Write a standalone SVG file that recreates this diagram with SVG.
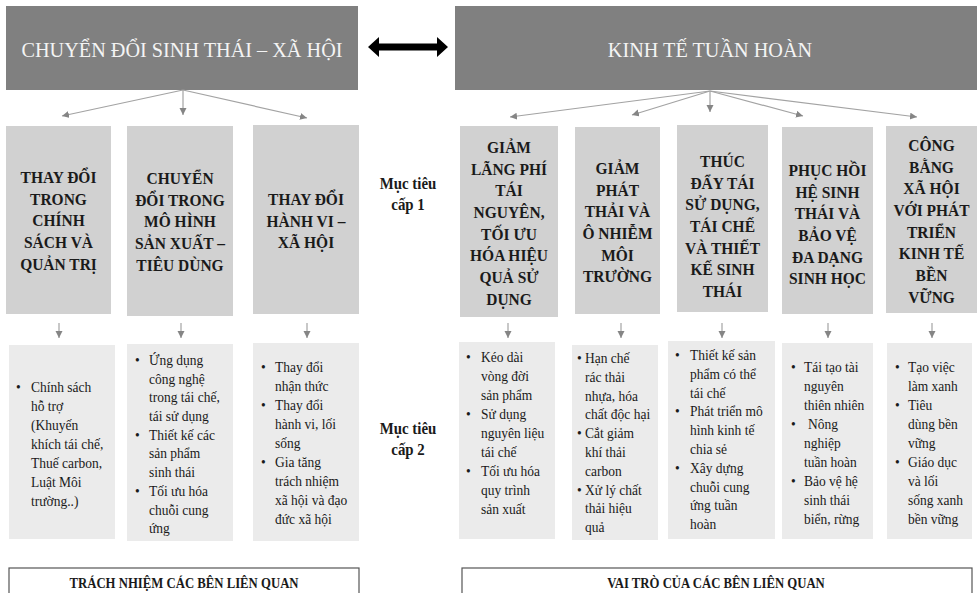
<svg xmlns="http://www.w3.org/2000/svg" width="977" height="593" viewBox="0 0 977 593">
<style>
.hdr{fill:#808080}
.hdrt{font-family:"Liberation Serif",serif;font-size:22px;fill:#f4f4f4;text-anchor:middle}
.l1{fill:#d1d1d1}
.l1t{font-family:"Liberation Serif",serif;font-size:17.5px;font-weight:bold;fill:#1a1a1a;text-anchor:middle}
.l2{fill:#ebebeb}
.l2t{font-family:"Liberation Serif",serif;font-size:15px;fill:#1a1a1a}
.lvl{font-family:"Liberation Serif",serif;font-size:16px;font-weight:bold;fill:#1a1a1a;text-anchor:middle}
.foot{fill:#ffffff;stroke:#555555;stroke-width:1.2}
.foott{font-family:"Liberation Serif",serif;font-size:14.5px;font-weight:bold;fill:#1a1a1a;text-anchor:middle}
.con{stroke:#a3a3a3;stroke-width:1.2;fill:none;marker-end:url(#ah)}
</style>
<defs>
<marker id="ah" markerUnits="userSpaceOnUse" markerWidth="8" markerHeight="8" refX="7" refY="3.5" orient="auto">
<path d="M0,0 L7,3.5 L0,7 z" fill="#858585"/>
</marker>
</defs>
<rect width="977" height="593" fill="#ffffff"/>

<g id="hdr-left">
<rect class="hdr" x="6" y="6" width="352" height="84"/>
<g transform="translate(182 0) scale(0.92 1)"><text class="hdrt" x="0" y="57">CHUYỂN ĐỔI SINH THÁI – XÃ HỘI</text></g>
</g>
<g id="hdr-right">
<rect class="hdr" x="455" y="6" width="522" height="84"/>
<g transform="translate(710 0) scale(0.92 1)"><text class="hdrt" x="0" y="57">KINH TẾ TUẦN HOÀN</text></g>
</g>

<g id="connectors">
<polygon points="368,47 379,37 379,43.5 437,43.5 437,37 448,47 437,57 437,50.5 379,50.5 379,57" fill="#000000"/>
<line class="con" x1="183" y1="90" x2="62" y2="116"/>
<line class="con" x1="183" y1="90" x2="183" y2="115"/>
<line class="con" x1="183" y1="90" x2="307" y2="118"/>
<line class="con" x1="710" y1="91" x2="510" y2="117"/>
<line class="con" x1="710" y1="91" x2="632" y2="115"/>
<line class="con" x1="710" y1="91" x2="710" y2="112"/>
<line class="con" x1="710" y1="91" x2="803" y2="116"/>
<line class="con" x1="710" y1="91" x2="917" y2="117"/>
<line class="con" x1="59" y1="323" x2="59" y2="338"/>
<line class="con" x1="181" y1="323" x2="181" y2="338"/>
<line class="con" x1="307" y1="323" x2="307" y2="338"/>
<line class="con" x1="508" y1="323" x2="508" y2="338"/>
<line class="con" x1="621" y1="323" x2="621" y2="338"/>
<line class="con" x1="722" y1="323" x2="722" y2="338"/>
<line class="con" x1="828" y1="323" x2="828" y2="338"/>
<line class="con" x1="932" y1="323" x2="932" y2="338"/>
</g>

<g id="l1-a">
<rect class="l1" x="6" y="126" width="105" height="188"/>
<g transform="translate(58.5 0) scale(0.886 1)"><text class="l1t"><tspan x="0" y="183">THAY ĐỔI</tspan><tspan x="0" dy="21.7">TRONG</tspan><tspan x="0" dy="21.7">CHÍNH</tspan><tspan x="0" dy="21.7">SÁCH VÀ</tspan><tspan x="0" dy="21.7">QUẢN TRỊ</tspan></text></g>
</g>
<g id="l1-b">
<rect class="l1" x="127" y="126" width="106" height="190"/>
<g transform="translate(180 0) scale(0.886 1)"><text class="l1t"><tspan x="0" y="184">CHUYỂN</tspan><tspan x="0" dy="21.7">ĐỔI TRONG</tspan><tspan x="0" dy="21.7">MÔ HÌNH</tspan><tspan x="0" dy="21.7">SẢN XUẤT –</tspan><tspan x="0" dy="21.7">TIÊU DÙNG</tspan></text></g>
</g>
<g id="l1-c">
<rect class="l1" x="253" y="125" width="106" height="189"/>
<g transform="translate(306 0) scale(0.886 1)"><text class="l1t"><tspan x="0" y="205">THAY ĐỔI</tspan><tspan x="0" dy="21.7">HÀNH VI –</tspan><tspan x="0" dy="21.7">XÃ HỘI</tspan></text></g>
</g>
<g id="l1-d">
<rect class="l1" x="460" y="126" width="98" height="191"/>
<g transform="translate(509 0) scale(0.886 1)"><text class="l1t"><tspan x="0" y="153">GIẢM</tspan><tspan x="0" dy="21.7">LÃNG PHÍ</tspan><tspan x="0" dy="21.7">TÁI</tspan><tspan x="0" dy="21.7">NGUYÊN,</tspan><tspan x="0" dy="21.7">TỐI ƯU</tspan><tspan x="0" dy="21.7">HÓA HIỆU</tspan><tspan x="0" dy="21.7">QUẢ SỬ</tspan><tspan x="0" dy="21.7">DỤNG</tspan></text></g>
</g>
<g id="l1-e">
<rect class="l1" x="575" y="127" width="85" height="187"/>
<g transform="translate(617.5 0) scale(0.886 1)"><text class="l1t"><tspan x="0" y="174">GIẢM</tspan><tspan x="0" dy="21.7">PHÁT</tspan><tspan x="0" dy="21.7">THẢI VÀ</tspan><tspan x="0" dy="21.7">Ô NHIỄM</tspan><tspan x="0" dy="21.7">MÔI</tspan><tspan x="0" dy="21.7">TRƯỜNG</tspan></text></g>
</g>
<g id="l1-f">
<rect class="l1" x="677" y="125" width="91" height="187"/>
<g transform="translate(722.5 0) scale(0.886 1)"><text class="l1t"><tspan x="0" y="167">THÚC</tspan><tspan x="0" dy="21.7">ĐẨY TÁI</tspan><tspan x="0" dy="21.7">SỬ DỤNG,</tspan><tspan x="0" dy="21.7">TÁI CHẾ</tspan><tspan x="0" dy="21.7">VÀ THIẾT</tspan><tspan x="0" dy="21.7">KẾ SINH</tspan><tspan x="0" dy="21.7">THÁI</tspan></text></g>
</g>
<g id="l1-g">
<rect class="l1" x="782" y="127" width="91" height="187"/>
<g transform="translate(827.5 0) scale(0.886 1)"><text class="l1t"><tspan x="0" y="176">PHỤC HỒI</tspan><tspan x="0" dy="21.7">HỆ SINH</tspan><tspan x="0" dy="21.7">THÁI VÀ</tspan><tspan x="0" dy="21.7">BẢO VỆ</tspan><tspan x="0" dy="21.7">ĐA DẠNG</tspan><tspan x="0" dy="21.7">SINH HỌC</tspan></text></g>
</g>
<g id="l1-h">
<rect class="l1" x="886" y="126" width="91" height="187"/>
<g transform="translate(931.5 0) scale(0.886 1)"><text class="l1t"><tspan x="0" y="151">CÔNG</tspan><tspan x="0" dy="21.7">BẰNG</tspan><tspan x="0" dy="21.7">XÃ HỘI</tspan><tspan x="0" dy="21.7">VỚI PHÁT</tspan><tspan x="0" dy="21.7">TRIỂN</tspan><tspan x="0" dy="21.7">KINH TẾ</tspan><tspan x="0" dy="21.7">BỀN</tspan><tspan x="0" dy="21.7">VỮNG</tspan></text></g>
</g>

<g id="label-1">
<g transform="translate(408 0) scale(0.93 1)"><text class="lvl"><tspan x="0" y="189">Mục tiêu</tspan><tspan x="0" dy="21">cấp 1</tspan></text></g>
</g>
<g id="label-2">
<g transform="translate(408 0) scale(0.93 1)"><text class="lvl"><tspan x="0" y="434">Mục tiêu</tspan><tspan x="0" dy="21">cấp 2</tspan></text></g>
</g>

<g id="l2-a">
<rect class="l2" x="9" y="345" width="106" height="194"/>
<g transform="translate(16 0) scale(0.9 1)">
<text class="l2t" x="0" y="392">•</text>
<text class="l2t"><tspan x="16.7" y="392">Chính sách</tspan><tspan x="16.7" dy="19">hỗ trợ</tspan><tspan x="16.7" dy="19">(Khuyến</tspan><tspan x="16.7" dy="19">khích tái chế,</tspan><tspan x="16.7" dy="19">Thuế carbon,</tspan><tspan x="16.7" dy="19">Luật Môi</tspan><tspan x="16.7" dy="19">trường..)</tspan></text>
</g>
</g>
<g id="l2-b">
<rect class="l2" x="127" y="344" width="106" height="197"/>
<g transform="translate(135 0) scale(0.9 1)">
<text class="l2t"><tspan x="0" y="365">•</tspan><tspan x="0" y="439.8">•</tspan><tspan x="0" y="495.9">•</tspan></text>
<text class="l2t"><tspan x="15.6" y="365">Ứng dụng</tspan><tspan x="15.6" dy="18.7">công nghệ</tspan><tspan x="15.6" dy="18.7">trong tái chế,</tspan><tspan x="15.6" dy="18.7">tái sử dụng</tspan><tspan x="15.6" dy="18.7">Thiết kế các</tspan><tspan x="15.6" dy="18.7">sản phẩm</tspan><tspan x="15.6" dy="18.7">sinh thái</tspan><tspan x="15.6" dy="18.7">Tối ưu hóa</tspan><tspan x="15.6" dy="18.7">chuỗi cung</tspan><tspan x="15.6" dy="18.7">ứng</tspan></text>
</g>
</g>
<g id="l2-c">
<rect class="l2" x="253" y="343" width="106" height="198"/>
<g transform="translate(261 0) scale(0.9 1)">
<text class="l2t"><tspan x="0" y="372">•</tspan><tspan x="0" y="410">•</tspan><tspan x="0" y="467">•</tspan></text>
<text class="l2t"><tspan x="15.6" y="372">Thay đổi</tspan><tspan x="15.6" dy="19">nhận thức</tspan><tspan x="15.6" dy="19">Thay đổi</tspan><tspan x="15.6" dy="19">hành vi, lối</tspan><tspan x="15.6" dy="19">sống</tspan><tspan x="15.6" dy="19">Gia tăng</tspan><tspan x="15.6" dy="19">trách nhiệm</tspan><tspan x="15.6" dy="19">xã hội và đạo</tspan><tspan x="15.6" dy="19">đức xã hội</tspan></text>
</g>
</g>
<g id="l2-d">
<rect class="l2" x="459" y="342" width="96" height="197"/>
<g transform="translate(466 0) scale(0.9 1)">
<text class="l2t"><tspan x="0" y="362">•</tspan><tspan x="0" y="419">•</tspan><tspan x="0" y="476">•</tspan></text>
<text class="l2t"><tspan x="16.7" y="362">Kéo dài</tspan><tspan x="16.7" dy="19">vòng đời</tspan><tspan x="16.7" dy="19">sản phẩm</tspan><tspan x="16.7" dy="19">Sử dụng</tspan><tspan x="16.7" dy="19">nguyên liệu</tspan><tspan x="16.7" dy="19">tái chế</tspan><tspan x="16.7" dy="19">Tối ưu hóa</tspan><tspan x="16.7" dy="19">quy trình</tspan><tspan x="16.7" dy="19">sản xuất</tspan></text>
</g>
</g>
<g id="l2-e">
<rect class="l2" x="572" y="345" width="86" height="195"/>
<g transform="translate(577 0) scale(0.9 1)">
<text class="l2t"><tspan x="0" y="363">•</tspan><tspan x="0" y="438.2">•</tspan><tspan x="0" y="494.6">•</tspan></text>
<text class="l2t"><tspan x="8.9" y="363">Hạn chế</tspan><tspan x="8.9" dy="18.8">rác thải</tspan><tspan x="8.9" dy="18.8">nhựa, hóa</tspan><tspan x="8.9" dy="18.8">chất độc hại</tspan><tspan x="8.9" dy="18.8">Cắt giảm</tspan><tspan x="8.9" dy="18.8">khí thải</tspan><tspan x="8.9" dy="18.8">carbon</tspan><tspan x="8.9" dy="18.8">Xử lý chất</tspan><tspan x="8.9" dy="18.8">thải hiệu</tspan><tspan x="8.9" dy="18.8">quả</tspan></text>
</g>
</g>
<g id="l2-f">
<rect class="l2" x="668" y="341" width="107" height="198"/>
<g transform="translate(675 0) scale(0.9 1)">
<text class="l2t"><tspan x="0" y="360">•</tspan><tspan x="0" y="416.4">•</tspan><tspan x="0" y="472.8">•</tspan></text>
<text class="l2t"><tspan x="16.7" y="360">Thiết kế sản</tspan><tspan x="16.7" dy="18.8">phẩm có thể</tspan><tspan x="16.7" dy="18.8">tái chế</tspan><tspan x="16.7" dy="18.8">Phát triển mô</tspan><tspan x="16.7" dy="18.8">hình kinh tế</tspan><tspan x="16.7" dy="18.8">chia sẻ</tspan><tspan x="16.7" dy="18.8">Xây dựng</tspan><tspan x="16.7" dy="18.8">chuỗi cung</tspan><tspan x="16.7" dy="18.8">ứng tuần</tspan><tspan x="16.7" dy="18.8">hoàn</tspan></text>
</g>
</g>
<g id="l2-g">
<rect class="l2" x="782" y="343" width="91" height="196"/>
<g transform="translate(791 0) scale(0.9 1)">
<text class="l2t"><tspan x="0" y="372">•</tspan><tspan x="0" y="429">•</tspan><tspan x="0" y="486">•</tspan></text>
<text class="l2t"><tspan x="14.4" y="372">Tái tạo tài</tspan><tspan x="14.4" dy="19">nguyên</tspan><tspan x="14.4" dy="19">thiên nhiên</tspan><tspan x="18.9" dy="19">Nông</tspan><tspan x="14.4" dy="19">nghiệp</tspan><tspan x="14.4" dy="19">tuần hoàn</tspan><tspan x="14.4" dy="19">Bảo vệ hệ</tspan><tspan x="14.4" dy="19">sinh thái</tspan><tspan x="14.4" dy="19">biển, rừng</tspan></text>
</g>
</g>
<g id="l2-h">
<rect class="l2" x="887" y="343" width="85" height="196"/>
<g transform="translate(895 0) scale(0.9 1)">
<text class="l2t"><tspan x="0" y="372">•</tspan><tspan x="0" y="410">•</tspan><tspan x="0" y="467">•</tspan></text>
<text class="l2t"><tspan x="14.4" y="372">Tạo việc</tspan><tspan x="14.4" dy="19">làm xanh</tspan><tspan x="14.4" dy="19">Tiêu</tspan><tspan x="14.4" dy="19">dùng bền</tspan><tspan x="14.4" dy="19">vững</tspan><tspan x="14.4" dy="19">Giáo dục</tspan><tspan x="14.4" dy="19">và lối</tspan><tspan x="14.4" dy="19">sống xanh</tspan><tspan x="14.4" dy="19">bền vững</tspan></text>
</g>
</g>

<g id="foot-left">
<rect class="foot" x="9" y="568" width="350" height="40"/>
<g transform="translate(184 0) scale(0.88 1)"><text class="foott" x="0" y="588">TRÁCH NHIỆM CÁC BÊN LIÊN QUAN</text></g>
</g>
<g id="foot-right">
<rect class="foot" x="462" y="568" width="510" height="40"/>
<g transform="translate(716 0) scale(0.88 1)"><text class="foott" x="0" y="588">VAI TRÒ CỦA CÁC BÊN LIÊN QUAN</text></g>
</g>
</svg>
